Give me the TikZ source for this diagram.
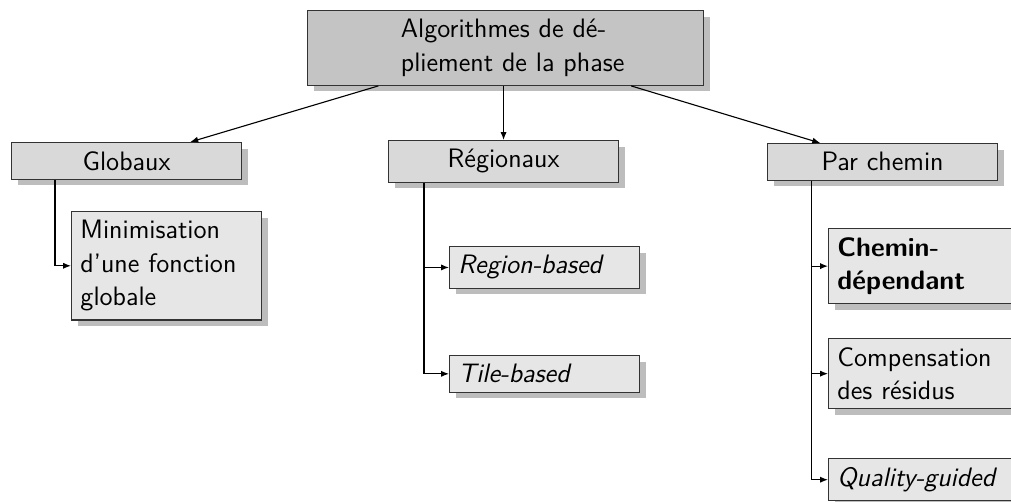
\documentclass[tikz,border=0pt]{standalone}
\usepackage{xcolor}
\usepackage{tikz}
\usetikzlibrary{arrows.meta,positioning,shadows}
\definecolor{dpBorder}{HTML}{333333}
\definecolor{dpRoot}{HTML}{C4C4C4}
\definecolor{dpCat}{HTML}{D9D9D9}
\definecolor{dpLeaf}{HTML}{E6E6E6}
\definecolor{dpShadow}{HTML}{BDBDBD}
\tikzset{
  base/.style={
    draw=dpBorder,
    line width=0.5pt,
    inner xsep=4pt,
    inner ysep=4pt,
    font=\fontsize{12}{15}\selectfont\sffamily,
    drop shadow={shadow xshift=2.7pt, shadow yshift=-2.7pt, fill=dpShadow, opacity=1}
  },
  rootbox/.style={base, fill=dpRoot, align=left, inner xsep=42pt, text width=94.2pt},
  catbox/.style={base, fill=dpCat, minimum width=103.5pt},
  leafbox/.style={base, fill=dpLeaf, align=left, text width=77.5pt},
  arrow/.style={-{Latex[length=3.6pt,width=2.8pt]}, line width=0.5pt, draw=black}
}

\begin{document}
\begin{tikzpicture}[x=0.45pt, y=-0.45pt]
  \useasboundingbox (0,0) rectangle (1011,501);

  \node[rootbox, anchor=north west] (root) at (307,10) {\mbox{Algorithmes de dé-}\\\mbox{pliement de la phase}};

  \node[catbox, anchor=north west] (glob) at (11,142) {Globaux};
  \node[catbox, anchor=north west] (regio) at (388,140) {Régionaux};
  \node[catbox, anchor=north west] (chem) at (767,143) {Par chemin};

  \node[leafbox, anchor=north west] (minim) at (71,211) {Minimisation\\d'une fonction\\globale};
  \node[leafbox, anchor=north west] (regb) at (449,246) {\itshape Region-based};
  \node[leafbox, anchor=north west] (tileb) at (449,355) {\itshape Tile-based};
  \node[leafbox, anchor=north west] (chdep) at (828,228) {\bfseries Chemin-\\dépendant};
  \node[leafbox, anchor=north west] (comp) at (828,338) {Compensation\\des résidus};
  \node[leafbox, anchor=north west] (qual) at (828,458) {\mbox{\itshape Quality-guided}};

  \draw[arrow] (root) -- (glob);
  \draw[arrow] (root.south -| regio.north) -- (regio.north);
  \draw[arrow] (root) -- (chem);

  \draw[arrow] ([xshift=19.8pt]glob.south west) |- (minim.west);
  \draw[arrow] ([xshift=16.2pt]regio.south west) |- (regb.west);
  \draw[arrow] ([xshift=16.2pt]regio.south west) |- (tileb.west);
  \draw[arrow] ([xshift=20.2pt]chem.south west) |- (chdep.west);
  \draw[arrow] ([xshift=20.2pt]chem.south west) |- (comp.west);
  \draw[arrow] ([xshift=20.2pt]chem.south west) |- (qual.west);
\end{tikzpicture}
\end{document}
